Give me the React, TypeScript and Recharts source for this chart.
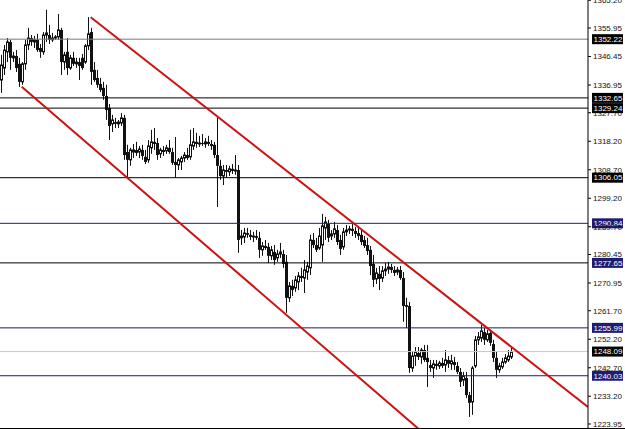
import React from 'react';
import { ComposedChart, Bar, XAxis, YAxis, ReferenceLine } from 'recharts';

const opens = [
  1338.6, 1342.6, 1348.0, 1351.3, 1346.0, 1346.6, 1344.0, 1338.0, 1344.0, 1350.3,
  1352.6, 1351.3, 1352.0, 1349.3, 1348.0, 1353.6, 1353.6, 1352.0, 1352.6, 1353.0,
  1355.3, 1344.6, 1348.0, 1342.6, 1346.0, 1344.0, 1344.6, 1346.0, 1344.6, 1350.0,
  1354.6, 1342.0, 1339.3, 1337.3, 1336.0, 1333.3, 1329.3, 1324.0, 1324.6, 1324.0,
  1324.3, 1326.0, 1314.6, 1312.0, 1314.6, 1315.3, 1314.6, 1315.3, 1313.0, 1312.0,
  1316.0, 1318.0, 1317.6, 1314.0, 1315.3, 1315.0, 1316.0, 1314.6, 1311.3, 1310.3,
  1311.3, 1312.6, 1313.6, 1313.0, 1316.6, 1318.0, 1317.3, 1317.6, 1317.3, 1318.0,
  1317.3, 1317.0, 1313.6, 1310.0, 1306.6, 1308.6, 1308.0, 1309.0, 1308.3, 1308.6,
  1286.0, 1286.3, 1287.6, 1287.0, 1286.3, 1286.6, 1286.0, 1282.0, 1283.3, 1283.0,
  1280.0, 1281.3, 1279.3, 1280.6, 1280.6, 1278.0, 1266.0, 1270.0, 1269.3, 1271.3,
  1273.3, 1272.6, 1274.6, 1276.0, 1285.3, 1283.6, 1282.6, 1283.6, 1289.3, 1290.6,
  1286.6, 1287.3, 1288.6, 1285.3, 1283.0, 1288.0, 1288.6, 1289.0, 1288.3, 1287.6,
  1287.0, 1285.3, 1283.6, 1282.0, 1277.3, 1272.3, 1274.0, 1272.6, 1275.0, 1275.6,
  1276.3, 1275.3, 1274.6, 1275.3, 1272.6, 1263.6, 1263.3, 1242.6, 1246.6, 1247.6,
  1246.3, 1248.6, 1246.0, 1243.6, 1242.6, 1244.0, 1243.3, 1244.3, 1243.6, 1245.3,
  1244.0, 1244.6, 1243.3, 1241.3, 1238.6, 1239.3, 1233.6, 1231.3, 1243.3, 1252.0,
  1252.6, 1254.6, 1252.0, 1254.3, 1250.6, 1246.0, 1242.0, 1243.0, 1244.6, 1245.3,
  1246.3,
];
const highs = [
  1347.0, 1350.3, 1352.6, 1352.0, 1348.0, 1348.6, 1346.0, 1344.6, 1352.0, 1356.0,
  1353.6, 1353.3, 1354.0, 1350.6, 1354.6, 1362.0, 1357.0, 1354.3, 1353.6, 1360.6,
  1356.0, 1348.0, 1352.6, 1347.0, 1348.0, 1346.0, 1346.0, 1347.3, 1350.6, 1359.6,
  1356.0, 1344.6, 1342.0, 1339.3, 1338.0, 1337.0, 1330.6, 1327.0, 1326.0, 1325.3,
  1327.6, 1327.0, 1317.0, 1316.0, 1317.3, 1318.0, 1316.6, 1317.0, 1315.3, 1318.6,
  1322.0, 1322.6, 1319.3, 1316.0, 1316.6, 1317.0, 1318.6, 1316.0, 1319.6, 1312.6,
  1313.3, 1314.6, 1316.0, 1322.0, 1322.6, 1321.0, 1320.0, 1320.6, 1319.3, 1320.0,
  1318.6, 1318.0, 1326.0, 1312.0, 1310.3, 1310.3, 1310.0, 1310.6, 1313.6, 1310.3,
  1288.6, 1289.3, 1289.3, 1288.6, 1288.0, 1288.6, 1288.0, 1284.6, 1285.3, 1284.3,
  1283.3, 1283.6, 1282.0, 1284.3, 1282.0, 1280.3, 1271.3, 1272.0, 1273.3, 1274.6,
  1276.0, 1278.6, 1278.0, 1287.0, 1287.6, 1286.0, 1289.3, 1294.0, 1293.0, 1292.0,
  1288.6, 1291.3, 1290.3, 1287.0, 1289.3, 1290.3, 1290.0, 1290.6, 1289.6, 1289.3,
  1288.6, 1286.6, 1286.0, 1283.3, 1280.3, 1276.0, 1276.6, 1276.6, 1277.6, 1278.0,
  1277.3, 1276.6, 1276.3, 1276.6, 1274.6, 1266.0, 1264.6, 1248.0, 1249.6, 1249.6,
  1249.3, 1250.3, 1250.3, 1245.3, 1245.3, 1245.3, 1245.0, 1246.0, 1248.6, 1246.6,
  1247.0, 1246.3, 1244.6, 1242.6, 1241.3, 1241.3, 1234.6, 1243.3, 1253.3, 1254.6,
  1257.0, 1256.0, 1255.3, 1255.3, 1252.0, 1248.0, 1244.3, 1246.0, 1247.3, 1248.6,
  1249.3,
];
const lows = [
  1334.3, 1340.3, 1344.6, 1342.0, 1344.6, 1341.3, 1336.3, 1337.0, 1342.0, 1348.6,
  1350.0, 1349.3, 1348.0, 1346.0, 1347.0, 1351.3, 1350.6, 1351.3, 1352.0, 1352.0,
  1340.3, 1342.0, 1340.3, 1342.0, 1343.3, 1342.6, 1338.6, 1342.0, 1344.0, 1348.6,
  1337.0, 1338.0, 1336.0, 1334.6, 1332.0, 1325.3, 1318.6, 1321.3, 1322.6, 1322.6,
  1323.3, 1312.0, 1306.0, 1310.0, 1312.6, 1313.3, 1312.6, 1312.0, 1310.6, 1311.0,
  1314.0, 1315.3, 1312.0, 1312.6, 1313.3, 1314.0, 1314.0, 1310.3, 1306.0, 1308.6,
  1308.6, 1311.3, 1312.0, 1312.0, 1315.3, 1316.0, 1316.3, 1316.6, 1316.0, 1316.6,
  1315.3, 1312.6, 1296.3, 1305.3, 1303.6, 1306.0, 1306.6, 1307.3, 1307.0, 1281.0,
  1283.6, 1284.3, 1286.0, 1285.3, 1284.6, 1285.3, 1279.3, 1280.0, 1282.0, 1277.6,
  1278.6, 1277.0, 1278.0, 1279.3, 1276.0, 1261.0, 1264.6, 1266.6, 1268.0, 1268.6,
  1271.3, 1267.6, 1272.0, 1273.6, 1282.6, 1281.3, 1282.0, 1278.0, 1285.3, 1284.6,
  1285.3, 1286.0, 1283.6, 1280.3, 1282.0, 1286.6, 1287.3, 1286.6, 1286.0, 1285.3,
  1283.6, 1282.6, 1280.3, 1273.6, 1269.6, 1270.6, 1268.6, 1271.3, 1273.3, 1274.0,
  1274.3, 1273.3, 1273.6, 1272.0, 1258.0, 1256.0, 1241.0, 1241.3, 1243.3, 1245.3,
  1244.0, 1244.6, 1236.3, 1241.3, 1239.3, 1242.0, 1242.3, 1242.6, 1241.3, 1242.6,
  1242.0, 1242.0, 1240.6, 1236.3, 1236.6, 1232.6, 1226.3, 1227.0, 1242.6, 1250.3,
  1251.3, 1250.3, 1251.3, 1250.0, 1244.6, 1239.3, 1241.0, 1242.3, 1244.0, 1244.6,
  1245.6,
];
const closes = [
  1343.6, 1348.6, 1351.3, 1346.0, 1346.6, 1342.6, 1338.0, 1344.0, 1350.3, 1352.6,
  1351.3, 1352.0, 1348.6, 1348.0, 1353.6, 1354.3, 1352.0, 1352.6, 1353.0, 1355.3,
  1344.6, 1347.0, 1342.6, 1346.0, 1344.0, 1344.6, 1343.3, 1342.6, 1350.0, 1354.0,
  1341.3, 1338.6, 1337.0, 1335.3, 1333.3, 1328.6, 1323.3, 1325.3, 1324.0, 1324.6,
  1326.0, 1313.6, 1312.0, 1315.3, 1315.3, 1314.3, 1315.6, 1313.3, 1311.3, 1316.6,
  1318.0, 1317.3, 1313.6, 1315.3, 1314.6, 1316.0, 1314.6, 1311.0, 1310.3, 1312.0,
  1312.6, 1313.6, 1312.6, 1317.0, 1318.0, 1317.3, 1317.6, 1317.3, 1318.0, 1317.3,
  1316.6, 1313.6, 1310.0, 1306.6, 1308.6, 1308.0, 1309.0, 1308.3, 1308.6, 1285.3,
  1286.6, 1287.6, 1287.0, 1286.3, 1286.6, 1286.0, 1282.0, 1283.3, 1282.6, 1280.0,
  1282.0, 1278.6, 1280.6, 1281.3, 1277.3, 1266.0, 1270.0, 1268.6, 1272.0, 1273.3,
  1272.6, 1275.3, 1276.6, 1285.3, 1283.6, 1282.0, 1286.6, 1290.0, 1291.3, 1286.0,
  1287.3, 1289.0, 1284.6, 1282.3, 1288.0, 1288.6, 1289.0, 1288.3, 1287.3, 1286.6,
  1284.6, 1283.3, 1281.6, 1276.6, 1272.0, 1274.3, 1272.3, 1275.0, 1275.6, 1276.3,
  1275.3, 1274.3, 1275.3, 1272.6, 1263.3, 1263.0, 1242.6, 1246.6, 1248.0, 1246.3,
  1248.6, 1245.3, 1244.6, 1242.6, 1244.0, 1243.3, 1244.3, 1243.3, 1245.3, 1244.0,
  1245.0, 1243.6, 1241.3, 1238.0, 1240.0, 1233.6, 1231.0, 1242.6, 1252.0, 1253.0,
  1255.0, 1252.0, 1254.0, 1251.0, 1246.0, 1242.0, 1243.3, 1244.6, 1246.0, 1246.6,
  1248.09,
];

const yTicks = [
  1365.2, 1355.95, 1346.45, 1336.95, 1327.7, 1318.2, 1308.7, 1299.2, 1289.7,
  1280.45, 1270.95, 1261.7, 1252.2, 1242.7, 1233.2, 1223.95,
];

const levels = [1352.22, 1332.65, 1329.24, 1306.05, 1290.84, 1277.65, 1255.99, 1248.09, 1240.03];

const channelUpper = [
  { i: 29.57, p: 1359.51 },
  { i: 195.33, p: 1229.61 },
];
const channelLower = [
  { i: 6.57, p: 1336.38 },
  { i: 139.5, p: 1221.78 },
];

const data = opens.map((o, i) => ({ i, o, h: highs[i], l: lows[i], c: closes[i] }));

const NAVY = '#1c1c72';
const levelStyle: Record<string, { line: string; tag: string }> = {
  '1352.22': { line: '#7a7a7a', tag: '#000' },
  '1332.65': { line: '#000', tag: '#000' },
  '1329.24': { line: '#000', tag: '#000' },
  '1306.05': { line: '#000', tag: '#000' },
  '1290.84': { line: NAVY, tag: NAVY },
  '1277.65': { line: '#000', tag: NAVY },
  '1255.99': { line: NAVY, tag: NAVY },
  '1248.09': { line: '#c8c8c8', tag: '#000' },
  '1240.03': { line: NAVY, tag: NAVY },
};

const Candle = (props: any) => {
  const { x, y, width, height, payload } = props;
  if (x == null || y == null || !payload) return null;
  const { o, h, l, c } = payload;
  const top = Math.min(y, y + height);
  const bot = Math.max(y, y + height);
  const span = h - l || 1;
  const py = (p: number) => top + ((h - p) / span) * (bot - top);
  const cx = Math.floor(x + width / 2);
  const yo = py(o);
  const yc = py(c);
  const bull = c >= o;
  const bt = Math.min(yo, yc);
  const bh = Math.max(1, Math.abs(yc - yo));
  return (
    <g>
      <line x1={cx + 0.5} x2={cx + 0.5} y1={top} y2={bot} stroke="#111" strokeWidth={1} />
      {bull ? (
        <rect x={cx - 0.5} y={bt} width={2} height={bh} fill="#fff" stroke="#111" strokeWidth={1} />
      ) : (
        <rect x={cx - 1} y={bt} width={3} height={bh} fill="#111" />
      )}
    </g>
  );
};

const LevelTag = (props: any) => {
  const { viewBox, text, bg } = props;
  if (!viewBox) return null;
  const xr = viewBox.x + viewBox.width;
  const yy = viewBox.y;
  return (
    <g>
      <rect x={xr + 4} y={yy - 5} width={31} height={10} fill={bg} />
      <text x={xr + 5.5} y={yy} dy="0.35em" fontSize={8} fill="#fff" fontFamily="Liberation Sans, Arial, sans-serif">
        {text}
      </text>
    </g>
  );
};

export default function App() {
  return (
    <div style={{ position: 'absolute', left: 0, top: 0, width: 625, height: 428, background: '#fff', borderBottom: '1px solid #000' }}>
      <ComposedChart
        width={625}
        height={428}
        data={data}
        margin={{ top: 0, right: 0, bottom: 0, left: 0 }}
        style={{ fontFamily: 'Liberation Sans, Arial, sans-serif' }}
      >
        <XAxis dataKey="i" type="number" domain={[-0.6667, 195.3333]} allowDataOverflow hide />
        <YAxis
          orientation="right"
          type="number"
          width={37}
          domain={[1222.613, 1365.28]}
          allowDataOverflow
          ticks={yTicks}
          interval={0}
          tickSize={3}
          tickMargin={2}
          axisLine={{ stroke: '#000' }}
          tickLine={{ stroke: '#000' }}
          tick={{ fontSize: 8, fill: '#111', fontFamily: 'Liberation Sans, Arial, sans-serif' }}
          tickFormatter={(v: number) => v.toFixed(2)}
        />
        {levels.map((v) => {
          const st = levelStyle[v.toFixed(2)];
          return (
            <ReferenceLine
              key={v}
              y={v}
              stroke={st.line}
              strokeWidth={1}
              ifOverflow="visible"
              label={<LevelTag text={v.toFixed(2)} bg={st.tag} />}
            />
          );
        })}
        <Bar dataKey={(d: any) => [d.l, d.h]} barSize={3} shape={<Candle />} isAnimationActive={false} />
        <ReferenceLine
          segment={[{ x: channelUpper[0].i, y: channelUpper[0].p }, { x: channelUpper[1].i, y: channelUpper[1].p }]}
          stroke="#cc1111"
          strokeWidth={2}
          ifOverflow="hidden"
        />
        <ReferenceLine
          segment={[{ x: channelLower[0].i, y: channelLower[0].p }, { x: channelLower[1].i, y: channelLower[1].p }]}
          stroke="#cc1111"
          strokeWidth={2}
          ifOverflow="hidden"
        />
      </ComposedChart>
    </div>
  );
}
